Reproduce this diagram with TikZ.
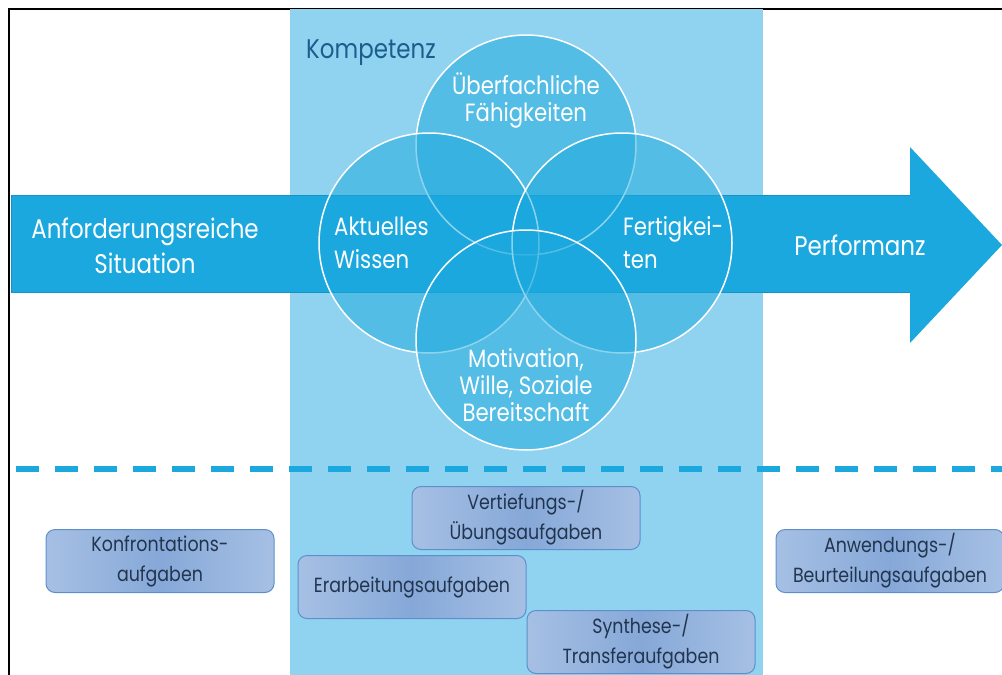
\documentclass[tikz,border=0pt]{standalone}
\usepackage{fontspec}
\setmainfont{Poppins}[FakeStretch=0.85]
\usetikzlibrary{positioning}

\definecolor{bandblue}{HTML}{8FD3F0}
\definecolor{arrowblue}{HTML}{1BA8DE}
\definecolor{arrowedge}{HTML}{1792C4}
\definecolor{kompblue}{HTML}{1B5E8E}
\definecolor{boxlight}{HTML}{A6C0E4}
\definecolor{boxdark}{HTML}{86A8D8}
\definecolor{boxedge}{HTML}{5F8FCB}
\definecolor{boxtext}{HTML}{22354F}

\begin{document}
\begin{tikzpicture}[x=1pt, y=-1pt,
    venn/.style={circle, draw=white, line width=1.5pt, fill=arrowblue, fill opacity=0.5,
        minimum size=220pt, inner sep=0pt},
    bigtext/.style={text=white, font=\fontsize{27}{35}\selectfont, align=center, inner sep=0pt},
    venntext/.style={text=white, font=\fontsize{25}{27}\selectfont, inner sep=0pt},
    task/.style={draw=boxedge, line width=1pt, rounded corners=9pt,
        left color=boxlight, right color=boxlight, middle color=boxdark,
        minimum width=228pt, minimum height=63pt, text=boxtext,
        font=\fontsize{20.5}{30}\selectfont, align=center, inner sep=0pt}]
    \useasboundingbox (0,0) rectangle (1002,675);

    % Frame
    \draw[line width=1.2pt] (9,675) -- (9,9) -- (1002,9);

    % Competence band
    \fill[bandblue] (290,9) rectangle (763,675);

    % Big arrow from situation to performance
    \fill[arrowblue] (11,195) -- (910,195) -- (910,147) -- (1002,245)
        -- (910,343) -- (910,292) -- (11,292) -- cycle;
    \draw[arrowedge, line width=0.8pt] (910,195) -- (11,195) -- (11,292) -- (910,292);

    % The four circles
    \node[venn] (ueberfach) at (526,145) {};
    \node[venn] (wissen) at (429,243) {};
    \node[venn] (fertig) at (622,243) {};
    \node[venn] (motiv) at (526,340) {};

    % Labels
    \node[bigtext, anchor=base west, text=kompblue] (kompetenz) at (306,58) {Kompetenz};
    \node[bigtext] (situation) at (145,246) {Anforderungsreiche\\Situation};
    \node[bigtext, anchor=base] (performanz) at (860,255) {Performanz};
    \node[venntext, align=center] (ueberlabel) at (526,100) {Überfachliche\\Fähigkeiten};
    \node[venntext, align=left, anchor=west] (wissenlabel) at (334,243) {Aktuelles\\[6pt]Wissen};
    \node[venntext, align=left, anchor=west] (fertiglabel) at (623,243) {Fertigkei-\\[6pt]ten};
    \node[venntext, align=center] (motivlabel) at (526,385) {Motivation,\\Wille, Soziale\\Bereitschaft};

    % Dashed separator
    \draw[arrowblue, line width=6pt, dash pattern=on 23pt off 16pt] (16,469) -- (1002,469);

    % Task types
    \node[task] (konfront) at (160,561) {Konfrontations-\\aufgaben};
    \node[task] (vertief) at (526,518) {Vertiefungs-/\\Übungsaufgaben};
    \node[task] (erarb) at (412,587) {Erarbeitungsaufgaben};
    \node[task] (synth) at (641,642) {Synthese-/\\Transferaufgaben};
    \node[task] (anwend) at (890,561) {Anwendungs-/\\Beurteilungsaufgaben};
\end{tikzpicture}
\end{document}
